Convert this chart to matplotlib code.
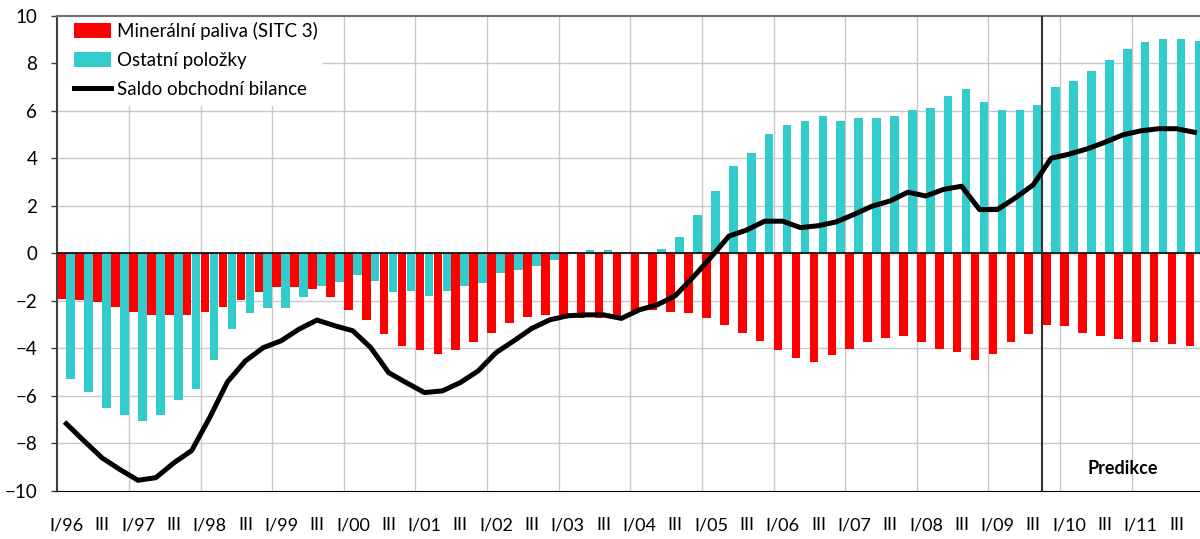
import numpy as np
import matplotlib.pyplot as plt
from matplotlib.patches import Rectangle

plt.rcParams['font.family'] = ['Lato', 'DejaVu Sans']

# quarterly data I/96 .. IV/11
years = list(range(1996, 2012))
minerals = [-1.93, -1.97, -2.04, -2.26, -2.48, -2.59, -2.59, -2.59,
            -2.48, -2.26, -1.97, -1.62, -1.41, -1.41, -1.50, -1.84,
            -2.39, -2.81, -3.40, -3.90, -4.06, -4.23, -4.06, -3.73,
            -3.35, -2.93, -2.67, -2.59, -2.63, -2.71, -2.71, -2.63,
            -2.42, -2.38, -2.46, -2.50, -2.71, -3.01, -3.35, -3.68,
            -4.06, -4.40, -4.59, -4.28, -4.02, -3.73, -3.56, -3.47,
            -3.73, -4.02, -4.15, -4.49, -4.23, -3.73, -3.39, -3.01,
            -3.05, -3.35, -3.47, -3.60, -3.73, -3.73, -3.81, -3.90]
others = [-5.29, -5.84, -6.53, -6.81, -7.06, -6.81, -6.17, -5.72,
          -4.49, -3.18, -2.50, -2.29, -2.29, -1.83, -1.36, -1.22,
          -0.90, -1.15, -1.62, -1.58, -1.79, -1.58, -1.36, -1.24,
          -0.82, -0.69, -0.52, -0.27, 0.07, 0.14, 0.14, 0.00,
          0.00, 0.18, 0.69, 1.61, 2.62, 3.68, 4.22, 5.02,
          5.40, 5.57, 5.78, 5.57, 5.70, 5.70, 5.78, 6.04,
          6.12, 6.62, 6.92, 6.37, 6.04, 6.04, 6.25, 7.00,
          7.26, 7.68, 8.14, 8.60, 8.90, 9.02, 9.02, 8.94]
balance = [-7.17, -7.90, -8.61, -9.10, -9.55, -9.44, -8.82, -8.30,
           -6.92, -5.41, -4.53, -3.97, -3.68, -3.19, -2.81, -3.05,
           -3.26, -3.97, -5.02, -5.45, -5.86, -5.79, -5.44, -4.95,
           -4.18, -3.68, -3.16, -2.80, -2.63, -2.59, -2.59, -2.74,
           -2.38, -2.17, -1.79, -1.01, -0.17, 0.72, 0.98, 1.35,
           1.35, 1.08, 1.16, 1.32, 1.64, 1.98, 2.20, 2.57,
           2.41, 2.69, 2.82, 1.84, 1.84, 2.33, 2.88, 4.00,
           4.17, 4.39, 4.67, 4.98, 5.15, 5.24, 5.24, 5.09]
forecast_start = 55  # first predicted quarter (IV/09)

n = len(balance)
x = np.arange(n)

labels = []
for y in years:
    labels += [f"I/{y % 100:02d}", "III"]

fig = plt.figure(figsize=(12, 5.39), dpi=100)
ax = fig.add_axes([0.0478, 0.0891, 0.955, 0.882])

b1 = ax.bar(x + 0.25, minerals, width=0.48, color='#ff0000', zorder=2,
            label='Minerální paliva (SITC 3)')
b2 = ax.bar(x + 0.75, others, width=0.48, color='#33cccc', zorder=2,
            label='Ostatní položky')
ln, = ax.plot(x + 0.5, balance, color='black', lw=3.6, zorder=4,
              solid_joinstyle='round', label='Saldo obchodní bilance')

ax.set_xlim(0, n)
ax.set_ylim(-10, 10)
ax.set_yticks(range(-10, 11, 2))
ax.set_xticks(x[::2] + 0.5)
ax.set_xticklabels(labels, fontsize=13)
ax.tick_params(axis='x', length=0, pad=19)
ax.tick_params(axis='y', length=4.5, width=1, color='#404040', pad=10, labelsize=13.5)

# grid
for v in range(-8, 10, 2):
    ax.axhline(v, color='#c8c8c8', lw=1, zorder=0)
for v in range(4, n, 4):
    ax.axvline(v, color='#c8c8c8', lw=1, zorder=0)
ax.axhline(0, color='black', lw=1.2, zorder=3)
ax.axvline(forecast_start, color='#333333', lw=1.5, zorder=3)

ax.spines['right'].set_visible(False)
ax.spines['top'].set_color('#707070')
ax.spines['top'].set_linewidth(1.5)
ax.spines['left'].set_color('#404040')
ax.spines['left'].set_linewidth(1.5)
ax.spines['bottom'].set_color('black')

ax.text(59.5, -9.05, 'Predikce', fontsize=13, fontweight='bold',
        ha='center', va='center')

# white legend area hiding the grid
ax.add_patch(Rectangle((0, 0.81), 0.2318, 0.19, transform=ax.transAxes,
                       facecolor='white', edgecolor='none', zorder=1))
leg = ax.legend(handles=[b1, b2, ln], loc='upper left',
                bbox_to_anchor=(0.0145, 0.986), borderaxespad=0, borderpad=0,
                frameon=False, fontsize=13.5,
                handlelength=2.0, handleheight=0.85, handletextpad=0.3,
                labelspacing=0.62)
leg.set_zorder(5)

fig.savefig('out.png', dpi=100)
